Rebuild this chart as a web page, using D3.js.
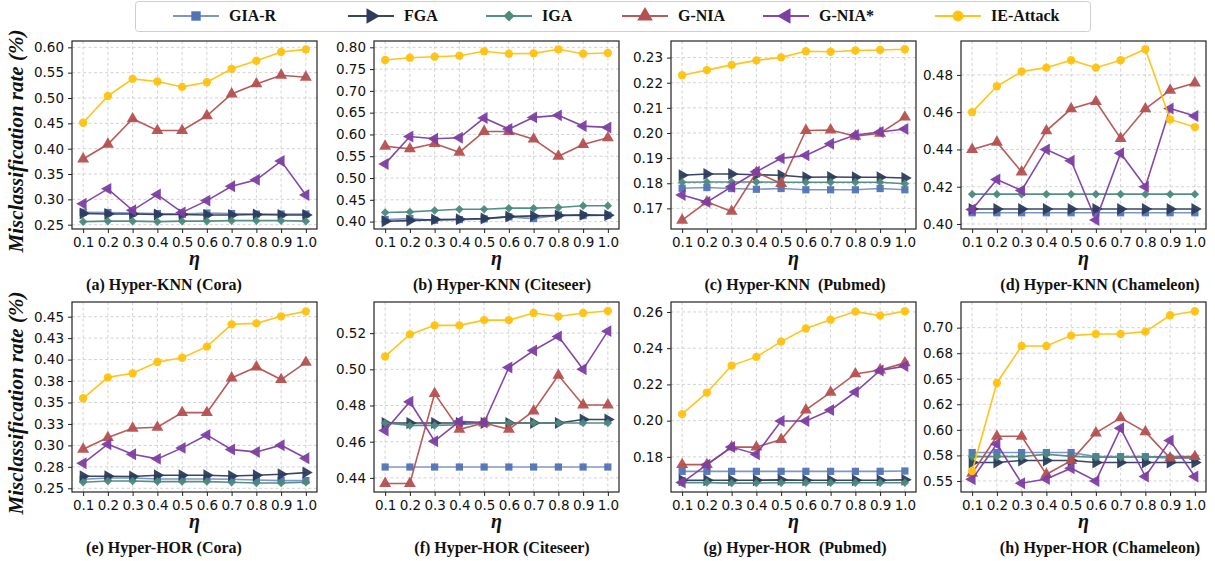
<!DOCTYPE html>
<html>
<head>
<meta charset="utf-8">
<script src="https://cdn.jsdelivr.net/npm/d3@7/dist/d3.min.js"></script>
<style>
  body { margin: 0; background: #fff; }
  svg { display: block; }
  .tick text { font-family: "DejaVu Sans", sans-serif; font-size: 13.5px; fill: #111; }
  .grid line { stroke: #c8c8c8; stroke-width: 0.8; stroke-dasharray: 3 2.5; }
  .serif { font-family: "Liberation Serif", "Times New Roman", serif; font-weight: bold; fill: #111; }
</style>
</head>
<body>
<div id="chart"></div>
<script>
// x values (eta)
const etaValues = [0.1, 0.2, 0.3, 0.4, 0.5, 0.6, 0.7, 0.8, 0.9, 1.0];
const seriesNames = ['GIA-R', 'FGA', 'IGA', 'G-NIA', 'G-NIA*', 'IE-Attack'];

// rows follow seriesNames order
const knnCora = [
  [0.2745, 0.274, 0.273, 0.272, 0.271, 0.273, 0.272, 0.271, 0.271, 0.271],
  [0.272, 0.271, 0.271, 0.270, 0.270, 0.269, 0.269, 0.270, 0.269, 0.269],
  [0.256, 0.257, 0.257, 0.256, 0.257, 0.257, 0.258, 0.258, 0.258, 0.257],
  [0.3796, 0.4087, 0.459, 0.4358, 0.4358, 0.465, 0.508, 0.5278, 0.545, 0.5411],
  [0.2915, 0.3207, 0.2783, 0.3094, 0.2743, 0.2975, 0.3259, 0.3385, 0.3756, 0.3087],
  [0.4511, 0.504, 0.5378, 0.5325, 0.5219, 0.5311, 0.5576, 0.5735, 0.5907, 0.596]
];
const knnCiteseer = [
  [0.4046, 0.4069, 0.4031, 0.4046, 0.4062, 0.4108, 0.4069, 0.4154, 0.4138, 0.4146],
  [0.4008, 0.4023, 0.4046, 0.4054, 0.4069, 0.4115, 0.4131, 0.4138, 0.4154, 0.4146],
  [0.4209, 0.4223, 0.4254, 0.4285, 0.4285, 0.4308, 0.4308, 0.4323, 0.4362, 0.4362],
  [0.5731, 0.567, 0.5792, 0.5592, 0.6069, 0.6069, 0.5892, 0.55, 0.577, 0.5923],
  [0.5324, 0.5954, 0.59, 0.5923, 0.6377, 0.6123, 0.6392, 0.6438, 0.6192, 0.6162],
  [0.7708, 0.7762, 0.7785, 0.7808, 0.7908, 0.7854, 0.7862, 0.7954, 0.7854, 0.7869]
];
const knnPubmed = [
  [0.178, 0.1783, 0.1779, 0.1776, 0.1779, 0.1774, 0.1774, 0.1774, 0.1779, 0.1774],
  [0.1832, 0.1837, 0.1837, 0.1834, 0.1832, 0.1824, 0.1825, 0.1824, 0.1824, 0.1821],
  [0.1804, 0.1805, 0.1805, 0.1805, 0.1804, 0.1804, 0.1804, 0.1804, 0.1804, 0.1798],
  [0.1653, 0.1726, 0.1688, 0.1843, 0.1799, 0.201, 0.2012, 0.1987, 0.1999, 0.2063],
  [0.1753, 0.1725, 0.1786, 0.1846, 0.1899, 0.1911, 0.1957, 0.1992, 0.2004, 0.2016],
  [0.223, 0.225, 0.2271, 0.2289, 0.2301, 0.2325, 0.2323, 0.2328, 0.233, 0.2333]
];
const knnChameleon = [
  [0.406, 0.406, 0.406, 0.406, 0.406, 0.406, 0.406, 0.406, 0.406, 0.406],
  [0.408, 0.408, 0.408, 0.408, 0.408, 0.408, 0.408, 0.408, 0.408, 0.408],
  [0.416, 0.416, 0.416, 0.416, 0.416, 0.416, 0.416, 0.416, 0.416, 0.416],
  [0.44, 0.4439, 0.4279, 0.45, 0.4618, 0.4657, 0.4459, 0.4618, 0.4718, 0.4757],
  [0.4078, 0.4239, 0.418, 0.44, 0.4339, 0.4021, 0.438, 0.42, 0.462, 0.458],
  [0.46, 0.4739, 0.4818, 0.4839, 0.4879, 0.4839, 0.4879, 0.4938, 0.4561, 0.452]
];
const horCora = [
  [0.2605, 0.2621, 0.2621, 0.2609, 0.2609, 0.2609, 0.2605, 0.2597, 0.259, 0.259],
  [0.2641, 0.2641, 0.2637, 0.2652, 0.2652, 0.2652, 0.2644, 0.2652, 0.2664, 0.2683],
  [0.257, 0.2586, 0.2586, 0.2578, 0.2578, 0.2578, 0.257, 0.2562, 0.2562, 0.257],
  [0.2955, 0.3091, 0.32, 0.3211, 0.3382, 0.3382, 0.3786, 0.3914, 0.3767, 0.3968],
  [0.2791, 0.3014, 0.2897, 0.2843, 0.2971, 0.3122, 0.2951, 0.2924, 0.3002, 0.2851],
  [0.3549, 0.3793, 0.384, 0.3972, 0.4022, 0.4151, 0.4411, 0.4422, 0.4504, 0.4562]
];
const horCiteseer = [
  [0.446, 0.446, 0.446, 0.446, 0.446, 0.446, 0.446, 0.446, 0.446, 0.446],
  [0.4703, 0.4703, 0.4703, 0.4703, 0.4703, 0.4703, 0.4703, 0.4703, 0.4723, 0.4723],
  [0.4703, 0.469, 0.469, 0.4694, 0.4703, 0.4703, 0.4703, 0.4703, 0.4703, 0.4703],
  [0.4369, 0.4369, 0.4866, 0.4668, 0.4703, 0.4668, 0.477, 0.4967, 0.4803, 0.4803],
  [0.4662, 0.4821, 0.4603, 0.4712, 0.4706, 0.501, 0.5104, 0.5182, 0.5, 0.5211],
  [0.5071, 0.5193, 0.5243, 0.5243, 0.5272, 0.5272, 0.5311, 0.5292, 0.5311, 0.5322]
];
const horPubmed = [
  [0.172, 0.172, 0.172, 0.172, 0.172, 0.172, 0.172, 0.172, 0.172, 0.1722],
  [0.1671, 0.1671, 0.1671, 0.1671, 0.1673, 0.1671, 0.1671, 0.1671, 0.1671, 0.1673],
  [0.1658, 0.1658, 0.1655, 0.1655, 0.1657, 0.1657, 0.1657, 0.1657, 0.1657, 0.1657],
  [0.1757, 0.1757, 0.1854, 0.1854, 0.1896, 0.2059, 0.2156, 0.2258, 0.228, 0.2319],
  [0.1658, 0.1757, 0.1854, 0.1815, 0.1998, 0.1998, 0.2059, 0.2158, 0.2277, 0.2301],
  [0.2036, 0.2155, 0.2304, 0.2352, 0.2436, 0.2509, 0.2557, 0.2602, 0.258, 0.2604]
];
const horChameleon = [
  [0.5778, 0.5778, 0.5778, 0.5778, 0.5778, 0.5738, 0.5738, 0.5738, 0.5722, 0.5722],
  [0.568, 0.568, 0.57, 0.57, 0.57, 0.568, 0.568, 0.568, 0.568, 0.568],
  [0.5738, 0.5738, 0.5738, 0.5761, 0.5741, 0.5732, 0.5732, 0.5735, 0.5738, 0.5738],
  [0.5575, 0.5937, 0.5937, 0.5565, 0.5699, 0.597, 0.6117, 0.598, 0.5723, 0.5738],
  [0.5517, 0.5862, 0.5478, 0.552, 0.5625, 0.55, 0.6015, 0.5543, 0.5895, 0.5543],
  [0.5598, 0.6459, 0.6821, 0.6821, 0.6922, 0.6938, 0.6938, 0.6961, 0.7121, 0.716]
];

// y tick values and their printed labels
const ticksA = [0.25, 0.30, 0.35, 0.40, 0.45, 0.50, 0.55, 0.60];
const ticksB = [0.40, 0.45, 0.50, 0.55, 0.60, 0.65, 0.70, 0.75, 0.80];
const ticksC = [0.17, 0.18, 0.19, 0.20, 0.21, 0.22, 0.23];
const ticksD = [0.40, 0.42, 0.44, 0.46, 0.48];
const ticksE = [0.25, 0.275, 0.30, 0.325, 0.35, 0.375, 0.40, 0.425, 0.45];
const labelsE = ['0.25', '0.28', '0.30', '0.33', '0.35', '0.38', '0.40', '0.43', '0.45'];
const ticksF = [0.44, 0.46, 0.48, 0.50, 0.52];
const ticksG = [0.18, 0.20, 0.22, 0.24, 0.26];
const ticksH = [0.55, 0.575, 0.60, 0.625, 0.65, 0.675, 0.70];
const labelsH = ['0.55', '0.58', '0.60', '0.62', '0.65', '0.68', '0.70'];

const captions = [
  '(a) Hyper-KNN (Cora)', '(b) Hyper-KNN (Citeseer)', '(c) Hyper-KNN  (Pubmed)', '(d) Hyper-KNN (Chameleon)',
  '(e) Hyper-HOR (Cora)', '(f) Hyper-HOR (Citeseer)', '(g) Hyper-HOR  (Pubmed)', '(h) Hyper-HOR (Chameleon)'
];

const width = 1215, height = 561;
const colors = ['#5273b5', '#2c3c5c', '#4b8a7c', '#b55050', '#7d3ea3', '#ffc20e'];
const symbolDefs = [
  { type: d3.symbolSquare, size: 52, rot: 0 },
  { type: d3.symbolTriangle, size: 62, rot: 90 },
  { type: d3.symbolSquare, size: 36, rot: 45 },
  { type: d3.symbolTriangle, size: 62, rot: 0 },
  { type: d3.symbolTriangle, size: 62, rot: -90 },
  { type: d3.symbolCircle, size: 55, rot: 0 }
];

const rowTop = [41, 302], rowBottom = [229, 492];
const colLeft = [72, 374, 671, 961];
const boxW = 245;
const captionX = [164, 502, 795, 1100];

const panels = [
  { data: knnCora, row: 0, col: 0, domain: [0.2415, 0.6125], ticks: ticksA },
  { data: knnCiteseer, row: 0, col: 1, domain: [0.383, 0.8145], ticks: ticksB },
  { data: knnPubmed, row: 0, col: 2, domain: [0.1618, 0.2366], ticks: ticksC },
  { data: knnChameleon, row: 0, col: 3, domain: [0.3973, 0.4982], ticks: ticksD },
  { data: horCora, row: 1, col: 0, domain: [0.2457, 0.4671], ticks: ticksE, labels: labelsE },
  { data: horCiteseer, row: 1, col: 1, domain: [0.4322, 0.5372], ticks: ticksF },
  { data: horPubmed, row: 1, col: 2, domain: [0.1606, 0.2655], ticks: ticksG },
  { data: horChameleon, row: 1, col: 3, domain: [0.5392, 0.7251], ticks: ticksH, labels: labelsH }
];

const svg = d3.select('#chart').append('svg')
  .attr('width', width)
  .attr('height', height);

function markerPath(i) {
  const s = symbolDefs[i];
  return d3.symbol().type(s.type).size(s.size)();
}

panels.forEach((p, pi) => {
  const x0 = colLeft[p.col], x1 = x0 + boxW;
  const y0 = rowTop[p.row], y1 = rowBottom[p.row];

  const x = d3.scaleLinear().domain([0.055, 1.045]).range([x0, x1]);
  const y = d3.scaleLinear().domain(p.domain).range([y1, y0]);

  const g = svg.append('g');

  // grid
  const grid = g.append('g').attr('class', 'grid');
  grid.selectAll('line.gx').data(etaValues).enter().append('line')
    .attr('x1', d => x(d)).attr('x2', d => x(d))
    .attr('y1', y0).attr('y2', y1);
  grid.selectAll('line.gy').data(p.ticks).enter().append('line')
    .attr('x1', x0).attr('x2', x1)
    .attr('y1', d => y(d)).attr('y2', d => y(d));

  // lines + markers
  p.data.forEach((vals, si) => {
    const pts = vals.map((v, k) => [etaValues[k], v]);
    const line = d3.line().x(d => x(d[0])).y(d => y(d[1]));
    g.append('path')
      .attr('d', line(pts))
      .attr('fill', 'none')
      .attr('stroke', colors[si])
      .attr('stroke-width', 1.6)
      .attr('stroke-opacity', si === 0 ? 0.75 : 0.95);
    g.selectAll(null).data(pts).enter().append('path')
      .attr('d', markerPath(si))
      .attr('transform', d => `translate(${x(d[0])},${y(d[1])}) rotate(${symbolDefs[si].rot})`)
      .attr('fill', colors[si])
      .attr('fill-opacity', 0.95);
  });

  // axes
  const xAxis = d3.axisBottom(x).tickValues(etaValues).tickFormat(d3.format('.1f')).tickSize(4).tickPadding(4);
  const yAxis = d3.axisLeft(y).tickValues(p.ticks).tickSize(4).tickPadding(4)
    .tickFormat((d, i) => p.labels ? p.labels[i] : d3.format('.2f')(d));
  const gx = g.append('g').attr('transform', `translate(0,${y1})`).call(xAxis);
  const gy = g.append('g').attr('transform', `translate(${x0},0)`).call(yAxis);
  [gx, gy].forEach(a => {
    a.select('.domain').remove();
    a.selectAll('.tick line').attr('stroke', '#222');
  });

  // frame
  g.append('rect')
    .attr('x', x0).attr('y', y0)
    .attr('width', x1 - x0).attr('height', y1 - y0)
    .attr('fill', 'none')
    .attr('stroke', '#222')
    .attr('stroke-width', 1.2);

  // eta label
  g.append('text')
    .attr('class', 'serif')
    .attr('x', (x0 + x1) / 2)
    .attr('y', y1 + 36)
    .attr('text-anchor', 'middle')
    .style('font-style', 'italic')
    .style('font-size', '20px')
    .text('η');

  // caption
  g.append('text')
    .attr('class', 'serif')
    .attr('x', captionX[p.col])
    .attr('y', y1 + 61)
    .attr('text-anchor', 'middle')
    .style('font-size', '16px')
    .style('white-space', 'pre')
    .attr('xml:space', 'preserve')
    .text(captions[pi]);

  // y label for first column
  if (p.col === 0) {
    g.append('text')
      .attr('class', 'serif')
      .attr('transform', `translate(23,${(y0 + y1) / 2 + 6}) rotate(-90)`)
      .attr('text-anchor', 'middle')
      .style('font-style', 'italic')
      .style('font-size', '21px')
      .text('Misclassification rate (%)');
  }
});

// legend
const legendStarts = [173, 348, 486, 622, 763, 935];
const legend = svg.append('g');
legend.append('rect')
  .attr('x', 135.5).attr('y', 1.5)
  .attr('width', 955).attr('height', 30)
  .attr('rx', 3)
  .attr('fill', '#fff')
  .attr('stroke', '#cfcfcf');
seriesNames.forEach((name, i) => {
  const lx = legendStarts[i];
  legend.append('line')
    .attr('x1', lx).attr('x2', lx + 46)
    .attr('y1', 16).attr('y2', 16)
    .attr('stroke', colors[i])
    .attr('stroke-width', 2.2)
    .attr('stroke-opacity', i === 0 ? 0.75 : 0.95);
  legend.append('path')
    .attr('d', d3.symbol().type(symbolDefs[i].type).size(symbolDefs[i].size * 1.7)())
    .attr('transform', `translate(${lx + 23},16) rotate(${symbolDefs[i].rot})`)
    .attr('fill', colors[i]);
  legend.append('text')
    .attr('class', 'serif')
    .attr('x', lx + 56)
    .attr('y', 21)
    .style('font-size', '16px')
    .text(name);
});
</script>
</body>
</html>
